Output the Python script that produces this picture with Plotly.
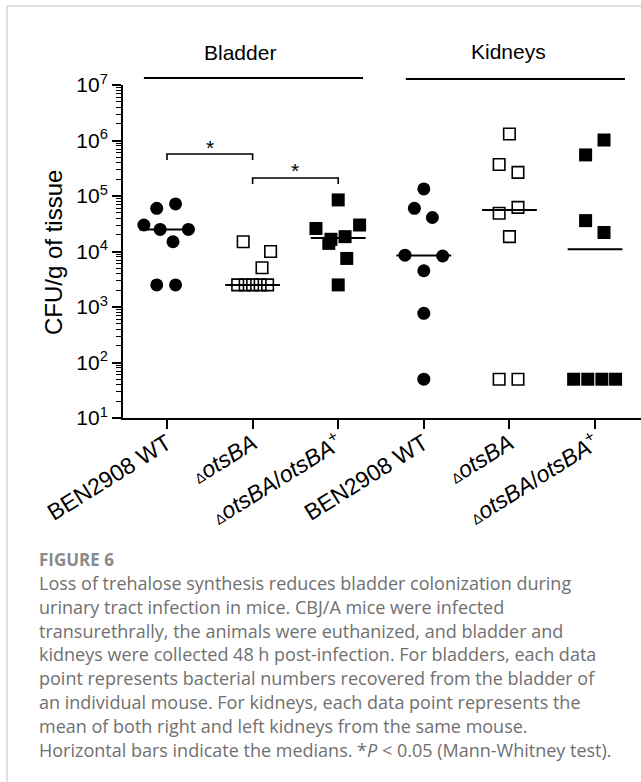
import numpy as np
import plotly.graph_objects as go

# ---------------- data ----------------
categories = ["BEN2908 WT", "ΔotsBA", "ΔotsBA/otsBA+", "BEN2908 WT", "ΔotsBA", "ΔotsBA/otsBA+"]
tick_labels = [
    "BEN2908 WT",
    "<span style='font-size:14px'>Δ</span><i>otsBA</i>",
    "<span style='font-size:14px'>Δ</span><i>otsBA</i>/<i>otsBA</i><sup>+</sup>",
    "BEN2908 WT",
    "<span style='font-size:14px'>Δ</span><i>otsBA</i>",
    "<span style='font-size:14px'>Δ</span><i>otsBA</i>/<i>otsBA</i><sup>+</sup>",
]
bladder_wt = [6.0e4, 7.2e4, 3.0e4, 2.5e4, 2.5e4, 1.5e4, 2.5e3, 2.5e3]
bladder_ko = [1.5e4, 1.0e4, 5.1e3, 2.5e3, 2.5e3, 2.5e3, 2.5e3, 2.5e3]
bladder_comp = [8.5e4, 2.6e4, 3.0e4, 1.66e4, 1.4e4, 1.85e4, 7.5e3, 2.5e3]
kidney_wt = [1.34e5, 6.0e4, 4.1e4, 8.6e3, 8.3e3, 4.5e3, 770, 50]
kidney_ko = [1.31e6, 3.7e5, 2.67e5, 6.25e4, 4.9e4, 1.85e4, 50, 50]
kidney_comp = [1.02e6, 5.5e5, 3.6e4, 2.2e4, 50, 50, 50, 50]
y_tick_values = [1e1, 1e2, 1e3, 1e4, 1e5, 1e6, 1e7]
y_tick_labels = ["10<sup>%d</sup>" % int(round(np.log10(v))) for v in y_tick_values]

# ---------------- layout/positions (scatter jitter) ----------------
jit_bwt = [-0.12, 0.10, -0.27, -0.08, 0.25, 0.07, -0.12, 0.10]
jit_bko = [-0.11, 0.21, 0.11, -0.174, -0.087, 0.0, 0.088, 0.175]
jit_bcp = [0.0, -0.26, 0.25, -0.085, -0.11, 0.08, 0.10, 0.0]
jit_kwt = [0.0, -0.11, 0.10, -0.22, 0.22, 0.0, 0.0, 0.0]
jit_kko = [0.0, -0.12, 0.10, 0.10, -0.12, 0.0, -0.12, 0.10]
jit_kcp = [0.105, -0.11, -0.11, 0.105, -0.25, -0.085, 0.08, 0.24]

groups = [
    (bladder_wt, jit_bwt, dict(symbol="circle", size=13, color="black")),
    (bladder_ko, jit_bko, dict(symbol="square-open", size=11.5, color="black", line=dict(width=1.6, color="black"))),
    (bladder_comp, jit_bcp, dict(symbol="square", size=13, color="black")),
    (kidney_wt, jit_kwt, dict(symbol="circle", size=13, color="black")),
    (kidney_ko, jit_kko, dict(symbol="square-open", size=11.5, color="black", line=dict(width=1.6, color="black"))),
    (kidney_comp, jit_kcp, dict(symbol="square", size=13, color="black")),
]

W, H = 641, 782
L, R, T, B = 123, 0, 85, 364
PW, PH = W - L - R, H - T - B


def px(xp):
    return (xp - L) / PW


def py(yp):
    return (H - B - yp) / PH


FONT = "Liberation Sans, Arial, sans-serif"
fig = go.Figure()

# median lines (behind markers)
for i, (vals, jit, mk) in enumerate(groups):
    med = float(np.median(vals))
    fig.add_trace(go.Scatter(x=[i - 0.32, i + 0.32], y=[med, med], mode="lines",
                             line=dict(color="black", width=2), showlegend=False, hoverinfo="skip"))

for i, (vals, jit, mk) in enumerate(groups):
    fig.add_trace(go.Scatter(x=[i + j for j in jit], y=vals, mode="markers",
                             marker=mk, showlegend=False, cliponaxis=False))

minor_vals = [m * 10 ** e for e in range(1, 7) for m in range(2, 10)]

fig.update_layout(
    width=W, height=H, autosize=False,
    margin=dict(l=L, r=R, t=T, b=B, pad=0),
    paper_bgcolor="white", plot_bgcolor="white",
    font=dict(family=FONT, size=21, color="black"),
    xaxis=dict(range=[-0.514, 5.537], tickmode="array", tickvals=list(range(6)), ticktext=tick_labels,
               tickangle=-32, ticks="outside", ticklen=9, tickwidth=2, tickcolor="black",
               ticklabelstandoff=-8,
               showline=True, linewidth=2, linecolor="black", showgrid=False, zeroline=False,
               tickfont=dict(family=FONT, size=23, color="black")),
    yaxis=dict(type="log", range=[1, 7], tickmode="array", tickvals=y_tick_values, ticktext=y_tick_labels,
               ticks="outside", ticklen=9, tickwidth=2, tickcolor="black",
               showline=True, linewidth=2, linecolor="black", showgrid=False, zeroline=False,
               tickfont=dict(family=FONT, size=21, color="black"),
               minor=dict(tickmode="array", tickvals=minor_vals, ticks="outside", ticklen=5,
                          tickwidth=1, tickcolor="black", showgrid=False)),
)

shapes = []
ann = []
# card border
shapes.append(dict(type="line", xref="paper", yref="paper", x0=px(7), x1=px(7), y0=py(6), y1=py(790),
                   line=dict(color="#d4d4d4", width=1.5)))
shapes.append(dict(type="line", xref="paper", yref="paper", x0=px(7), x1=px(650), y0=py(6), y1=py(6),
                   line=dict(color="#d4d4d4", width=1.5)))
# group lines
shapes.append(dict(type="line", xref="x", yref="paper", x0=-0.27, x1=2.29, y0=py(78), y1=py(78),
                   line=dict(color="black", width=2)))
shapes.append(dict(type="line", xref="x", yref="paper", x0=2.79, x1=5.35, y0=py(79), y1=py(79),
                   line=dict(color="black", width=2)))
ann.append(dict(text="Bladder", xref="paper", yref="paper", x=px(240), y=py(53), showarrow=False,
                xanchor="center", yanchor="middle", font=dict(size=21)))
ann.append(dict(text="Kidneys", xref="paper", yref="paper", x=px(508), y=py(52), showarrow=False,
                xanchor="center", yanchor="middle", font=dict(size=21)))
# significance brackets
for (a, b, ytop, ystar) in [(0, 1, 154, 147), (1, 2, 178, 170)]:
    shapes.append(dict(type="path", xref="x", yref="paper",
                       path="M %f,%f L %f,%f L %f,%f L %f,%f" % (a, py(ytop + 6), a, py(ytop), b, py(ytop), b, py(ytop + 6)),
                       line=dict(color="black", width=1.6)))
    ann.append(dict(text="*", xref="x", yref="paper", x=(a + b) / 2, y=py(ystar), showarrow=False,
                    xanchor="center", yanchor="middle", font=dict(size=21)))
# y title
ann.append(dict(text="CFU/g of tissue", xref="paper", yref="paper", x=px(54), y=py(253), textangle=-90,
                showarrow=False, xanchor="center", yanchor="middle", font=dict(size=24)))
# caption
CAP = "Open Sans, sans-serif"
ann.append(dict(text="<b>FIGURE 6</b>", xref="paper", yref="paper", x=px(37), y=py(559), showarrow=False,
                xanchor="left", yanchor="middle", font=dict(family=CAP, size=17, color="#8a8a8a")))
caption = [
    "Loss of trehalose synthesis reduces bladder colonization during",
    "urinary tract infection in mice. CBJ/A mice were infected",
    "transurethrally, the animals were euthanized, and bladder and",
    "kidneys were collected 48 h post-infection. For bladders, each data",
    "point represents bacterial numbers recovered from the bladder of",
    "an individual mouse. For kidneys, each data point represents the",
    "mean of both right and left kidneys from the same mouse.",
    "Horizontal bars indicate the medians. *<i>P</i> &lt; 0.05 (Mann-Whitney test).",
]
for k, line in enumerate(caption):
    ann.append(dict(text=line, xref="paper", yref="paper", x=px(37), y=py(583 + 23.8 * k), showarrow=False,
                    xanchor="left", yanchor="middle", font=dict(family=CAP, size=18, color="#707070")))

fig.update_layout(shapes=shapes, annotations=ann)
fig.write_html("out.html", config={"displayModeBar": False},
               post_script="document.body.style.margin='0';document.body.style.overflow='hidden';")
